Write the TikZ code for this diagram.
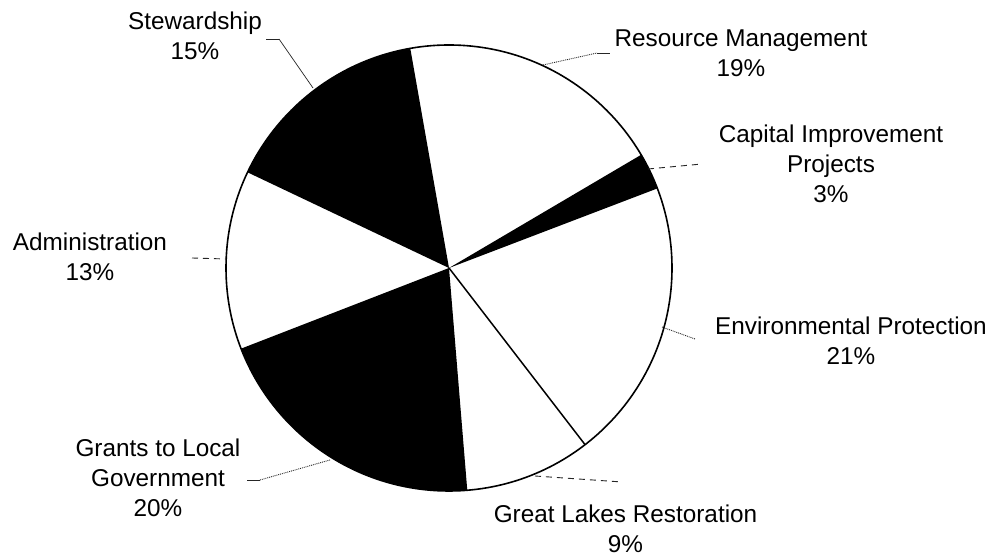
\documentclass[tikz,border=0pt]{standalone}
\usepackage{fontspec}
\setmainfont{Liberation Sans}
\usetikzlibrary{calc}
\begin{document}
\begin{tikzpicture}[x=1bp,y=1bp,
  lbl/.style={font=\fontsize{24.4}{30}\selectfont, align=center, inner sep=0pt, text=black},
  dotleader/.style={line width=0.9bp, densely dotted, black!85},
  dashleader/.style={line width=0.9bp, dash pattern=on 6bp off 5bp, black!85},
  solidleader/.style={line width=0.9bp, black!85},
  slice/.style={fill=black}]
\useasboundingbox (0,0) rectangle (1008,558);
\fill[white] (0,0) rectangle (1008,558);
% pie
\coordinate (C) at (449,290);
\fill[white] (C) circle[radius=223];
\fill[slice] (C) -- ++(100:223) arc[start angle=100, end angle=154.6, radius=223] -- cycle;
\fill[slice] (C) -- ++(20.9:223) arc[start angle=20.9, end angle=30.5, radius=223] -- cycle;
\fill[slice] (C) -- ++(201.2:223) arc[start angle=201.2, end angle=274.7, radius=223] -- cycle;
\coordinate (b1) at ($(C)+(-52.4:223)$);
\draw[line width=1.5bp] (C) -- (b1);
\draw[line width=1.6bp] (C) circle[radius=223];
% labels (image y converted: Y = 558 - y)
\node[lbl] (stew) at (195,522) {Stewardship\\15\%};
\node[lbl] (res) at (741,505) {Resource Management\\19\%};
\node[lbl] (cap) at (831,394) {Capital Improvement\\Projects\\3\%};
\node[lbl] (adm) at (90,301) {Administration\\13\%};
\node[lbl] (env) at (851,217.5) {Environmental Protection\\21\%};
\node[lbl] (gra) at (158,80) {Grants to Local\\Government\\20\%};
\node[lbl] (gl) at (625.5,29) {Great Lakes Restoration\\9\%};
% leader anchor points
\coordinate (stewA) at (266,519);
\coordinate (stewB) at (279,519);
\coordinate (stewP) at (313,470);
\coordinate (resP) at (543,493);
\coordinate (resB) at (597,505);
\coordinate (resA) at (610,505);
\coordinate (capP) at (648,389);
\coordinate (capA) at (702,394);
\coordinate (admA) at (192,300);
\coordinate (admP) at (226,299);
\coordinate (envP) at (662,231);
\coordinate (envA) at (695,219);
\coordinate (graA) at (247,78);
\coordinate (graB) at (260,78);
\coordinate (graP) at (330,98);
\coordinate (glP) at (535,82);
\coordinate (glA) at (622,76);
% leaders
\draw[solidleader] (stewA) -- (stewB);
\draw[solidleader, line width=0.7bp] (stewB) -- (stewP);
\draw[dotleader] (resP) -- (resB);
\draw[solidleader] (resB) -- (resA);
\draw[dashleader] (capP) -- (capA);
\draw[dashleader] (admA) -- (admP);
\draw[dotleader] (envP) -- (envA);
\draw[solidleader] (graA) -- (graB);
\draw[dotleader] (graB) -- (graP);
\draw[dashleader] (glP) -- (glA);
\end{tikzpicture}
\end{document}
